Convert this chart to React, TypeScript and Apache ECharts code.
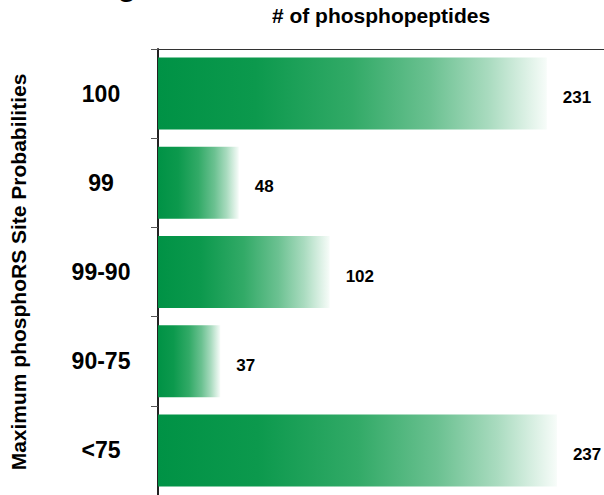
import React, { useEffect, useRef } from "react";
import * as echarts from "echarts";

const categories = ["100", "99", "99-90", "90-75", "<75"];
const counts = [231, 48, 102, 37, 237];
const xAxisTitle = "# of phosphopeptides";
const yAxisTitle = "Maximum phosphoRS Site Probabilities";

export default function App() {
  const ref = useRef<HTMLDivElement>(null);
  useEffect(() => {
    if (!ref.current) return;
    const chart = echarts.init(ref.current, null, { renderer: "svg" });
    const font = "'Liberation Sans', Arial, Helvetica, sans-serif";
    chart.setOption({
      animation: false,
      backgroundColor: "#ffffff",
      textStyle: { fontFamily: font },
      grid: { left: 147, top: 41, right: 0, height: 456 },
      graphic: [
        {
          type: "text",
          x: 127,
          y: 0,
          style: {
            text: "g",
            fontSize: 30,
            fontWeight: "bold",
            fontFamily: font,
            fill: "#000",
            textAlign: "center",
            textVerticalAlign: "bottom",
          },
        },
      ],
      xAxis: {
        type: "value",
        position: "top",
        min: 0,
        max: 265,
        name: xAxisTitle,
        nameLocation: "middle",
        nameGap: 23,
        nameTextStyle: { fontSize: 21, fontWeight: "bold", color: "#000", fontFamily: font },
        axisLine: { show: true, lineStyle: { color: "#333", width: 1 } },
        axisTick: { show: false },
        axisLabel: { show: false },
        splitLine: { show: false },
      },
      yAxis: {
        type: "category",
        data: categories,
        inverse: true,
        name: yAxisTitle,
        nameLocation: "middle",
        nameGap: 129,
        nameRotate: 90,
        nameTextStyle: { fontSize: 21, fontWeight: "bold", color: "#000", fontFamily: font },
        axisLine: { show: true, lineStyle: { color: "#222", width: 2 } },
        axisTick: { show: true, length: 7, lineStyle: { color: "#555", width: 1 } },
        axisLabel: {
          align: "center",
          margin: 57,
          fontSize: 23,
          fontWeight: "bold",
          color: "#000",
          fontFamily: font,
        },
      },
      series: [
        {
          type: "bar",
          data: counts,
          barWidth: 72,
          itemStyle: {
            color: new echarts.graphic.LinearGradient(0, 0, 1, 0, [
              { offset: 0, color: "#009245" },
              { offset: 0.25, color: "#0c994d" },
              { offset: 0.5, color: "#32aa67" },
              { offset: 0.7, color: "#6bc191" },
              { offset: 0.85, color: "#a9dbbf" },
              { offset: 1, color: "#f7fcf9" },
            ]),
          },
          label: {
            show: true,
            position: "right",
            distance: 16,
            offset: [0, 4],
            fontSize: 17,
            fontWeight: "bold",
            color: "#000",
            fontFamily: font,
          },
        },
      ],
    });
    return () => chart.dispose();
  }, []);
  return (
    <div
      ref={ref}
      style={{ position: "fixed", left: 0, top: 0, width: 604, height: 495 }}
    />
  );
}
